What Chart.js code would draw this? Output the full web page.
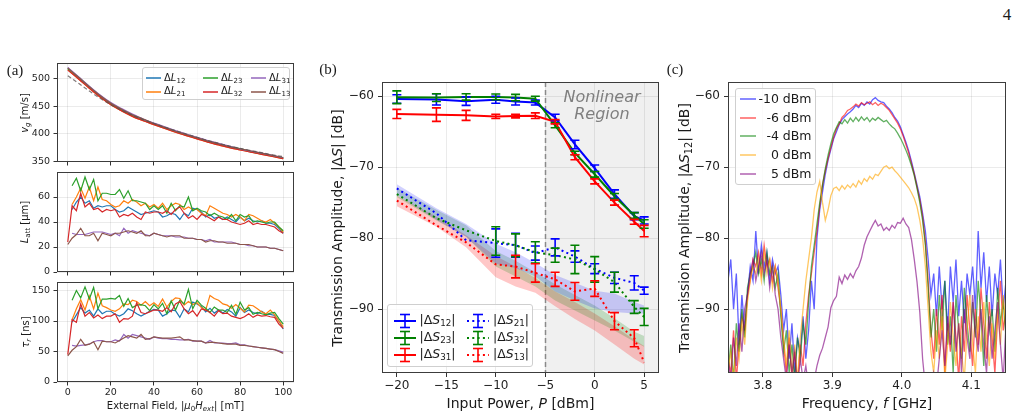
<!DOCTYPE html>
<html><head><meta charset="utf-8">
<script src="https://cdn.jsdelivr.net/npm/chart.js@4.4.1/dist/chart.umd.min.js"></script>
<style>
html,body{margin:0;padding:0;background:#fff}
#root{position:relative;width:1018px;height:418px;overflow:hidden;font-family:"DejaVu Sans",sans-serif;color:#1a1a1a}
canvas{position:absolute}
.tx{position:absolute;white-space:nowrap;line-height:1;transform:translate(-50%,-50%)}
.rot{transform:translate(-50%,-50%) rotate(-90deg)}
.serif{font-family:"Liberation Serif","DejaVu Serif",serif}
.lg{position:absolute;background:rgba(255,255,255,0.8);border:1px solid #cfcfcf;border-radius:3px;box-sizing:border-box}
.it{position:absolute;white-space:nowrap;line-height:1;transform:translateY(-50%)}
.hd{position:absolute;transform:translateY(-50%)}
sub{font-size:70%;vertical-align:-0.3em;line-height:0}
</style></head><body><div id="root"></div>
<script>
// ---------------- DATA ----------------
// Panel (a)
const fieldVg = [0,5,10,15,20,25,30,35,40,45,50,55,60,65,70,75,80,85,90,95,100];
const vgL12 = [519,502,485,469,455,444,434,425,418,411,405,398,392,386,381,377,372,368,364,360,356];
const vgL21 = [517,500,483,467,453,442,432,424,417,410,403,397,391,385,380,375,371,367,363,359,355];
const vgL23 = [519,503,486,469,455,444,434,426,419,412,405,399,393,387,382,377,373,368,364,360,356];
const vgL32 = [516,500,483,467,453,442,432,424,417,410,403,397,391,385,380,375,371,367,363,359,355];
const vgL31 = [521,504,487,471,457,446,436,427,420,413,406,400,394,388,383,378,373,369,365,361,357];
const vgL13 = [520,503,486,470,456,445,435,427,419,412,405,399,393,387,382,377,373,369,365,361,357];
const vgTheory = [506,492,478,465,453,443,434,426,419,412,406,400,394,388,383,378,374,370,366,362,359];

const field = [0,2,4,6,8,10,12,14,16,18,20,22,24,26,28,30,32,34,36,38,40,42,44,46,48,50,52,54,56,58,60,62,64,66,68,70,72,74,76,78,80,82,84,86,88,90,92,94,96,98,100];
const LattL12 = [null,50,56,60,55,57,51,53,52,53,53,50,48,49,52,50,48,46,47,48,49,48,44,45,47,46,42,47,45,51,50,48,44,46,43,44,42,44,42,40,44,41,43,41,40,41,39,39,38,35,31];
const LattL21 = [null,54,60,67,59,68,57,68,58,57,54,52,53,57,55,58,56,53,55,52,54,51,55,50,53,55,54,50,52,50,50,47,45,53,51,49,47,46,44,46,44,41,46,45,43,41,40,42,39,36,32];
const LattL23 = [null,69,75,65,76,66,74,57,63,63,62,62,66,59,65,57,57,56,55,50,53,50,53,47,55,49,53,52,60,49,51,49,48,45,47,45,44,42,46,41,46,44,45,40,41,40,39,40,40,36,33];
const LattL32 = [24,53,49,63,52,55,50,51,48,50,49,50,44,46,45,47,44,42,48,47,48,48,47,49,46,50,52,47,43,45,42,46,45,43,41,44,42,42,40,39,38,39,41,38,39,38,38,37,36,33,31];
const LattL31 = [null,31,30,30,30,31,32,32,32,31,30,31,29,35,31,33,32,31,30,29,31,30,29,29,29,28,28,28,27,27,26,26,25,26,24,24,24,24,24,23,22,22,21,21,20,20,20,19,19,18,17];
const LattL13 = [22,27,30,35,29,29,31,25,31,30,29,31,31,32,33,32,31,33,29,29,31,30,29,28,29,29,29,27,27,27,26,26,24,25,25,24,24,23,23,23,22,22,22,21,20,20,20,19,19,18,17];

const tauL12 = [null,98,110,122,113,118,108,120,112,116,116,111,108,112,120,117,112,108,112,116,119,118,108,112,118,117,106,120,115,131,128,124,115,121,113,118,113,119,115,108,122,114,118,114,112,116,111,111,109,100,87];
const tauL21 = [null,102,120,135,118,141,120,146,125,122,118,116,120,128,127,134,132,126,132,125,130,124,136,123,132,138,137,126,132,127,130,122,118,142,137,134,128,126,121,127,121,115,126,125,120,115,112,118,110,100,91];
const tauL23 = [null,134,150,138,156,136,155,120,136,136,137,136,142,124,137,122,126,127,125,117,127,120,129,112,133,118,134,128,152,120,134,126,121,114,123,118,118,114,126,111,131,118,122,111,114,112,110,113,114,104,95];
const tauL32 = [45,102,98,128,108,114,105,110,104,108,108,112,98,104,103,108,130,114,112,115,118,118,116,122,115,128,132,120,112,117,108,120,118,114,108,117,112,113,108,106,104,107,112,106,110,108,109,107,106,95,88];
const tauL31 = [null,60,59,60,61,62,66,68,68,66,66,69,67,78,72,78,76,74,72,70,74,72,71,71,70,70,69,69,70,67,67,67,64,68,64,64,64,63,63,64,61,61,59,58,57,56,55,54,53,51,49];
const tauL13 = [43,52,58,70,60,62,66,53,67,66,66,64,68,72,76,74,72,78,70,71,74,73,72,72,72,73,74,69,69,68,67,67,64,65,65,64,63,62,62,62,60,60,59,58,57,56,55,54,53,50,47];

const aLabels = ['12','21','23','32','31','13'];
const aXTicks = [0,20,40,60,80,100];
const aVgTicks = [350,400,450,500];
const aLattTicks = [0,20,40,60];
const aTauTicks = [0,50,100,150];

// Panel (b)
const powerP = [-20,-16,-13,-10,-8,-6,-4,-2,0,2,4,5];
const dS12 = [-60.4,-60.45,-60.7,-60.5,-60.75,-60.9,-63.0,-66.8,-70.15,-73.8,-76.9,-77.5];
const dS12Err = [0.6,0.8,0.6,0.5,0.5,0.35,0.45,0.6,0.45,0.6,0.5,0.5];
const dS23 = [-60.15,-60.2,-60.1,-60.1,-60.2,-60.35,-64.1,-68.0,-71.0,-74.1,-76.8,-78.0];
const dS23Err = [0.9,0.55,0.45,0.4,0.45,0.35,0.35,0.25,0.4,0.4,0.4,0.6];
const dS31 = [-62.5,-62.6,-62.7,-62.85,-62.8,-62.75,-63.6,-68.6,-72.0,-75.0,-77.7,-79.0];
const dS31Err = [0.65,0.95,0.7,0.3,0.25,0.4,0.3,0.35,0.35,0.35,0.35,0.8];
const dS21 = [-73.0,-76.5,-80.3,-80.7,-81.0,-82.1,-81.3,-82.6,-84.3,-85.6,-86.3,-87.4];
const dS21Err = [null,null,null,2.0,1.7,1.0,1.2,0.8,0.7,0.8,1.0,0.5];
const dS32 = [-73.8,-77.2,-78.9,-80.4,-81.0,-82.0,-82.4,-83.0,-84.4,-86.2,-89.7,-91.1];
const dS32Err = [null,null,null,2.0,1.6,1.5,1.0,2.0,1.8,1.4,0.9,1.2];
const dS13 = [-74.7,-78.2,-80.6,-83.7,-84.0,-84.9,-85.8,-87.5,-87.1,-91.7,-94.1,-97.5];
const dS13Err = [null,null,null,null,1.6,1.3,1.0,1.25,1.1,1.2,1.2,null];
const band12Hi = [-72.4,-75.8,-78.0,-80.8,-82.0,-83.5,-85.2,-86.3,-87.4,-87.8,-89.0,-89.5];
const band12Lo = [-73.9,-77.4,-79.8,-83.6,-84.2,-85.4,-87.5,-88.8,-89.9,-90.4,-90.6,-90.6];
const band23Hi = [-72.9,-76.0,-78.2,-81.8,-83.2,-84.8,-86.5,-88.0,-89.5,-91.3,-93.2,-93.8];
const band23Lo = [-74.2,-77.5,-79.8,-84.0,-85.4,-86.8,-88.8,-90.2,-91.6,-93.0,-94.6,-95.3];
const band31Hi = [-74.0,-77.0,-79.6,-82.5,-84.0,-85.6,-87.5,-89.0,-90.6,-92.4,-94.3,-95.2];
const band31Lo = [-75.5,-78.4,-81.3,-85.5,-86.8,-87.7,-89.6,-91.4,-93.0,-95.0,-97.0,-97.8];
const nonlinearStart = -5;
const bXTicks = [-20,-15,-10,-5,0,5];
const bYTicks = [-90,-80,-70,-60];

// Panel (c)
const freqGHz = [3.750,3.754,3.758,3.762,3.766,3.770,3.774,3.778,3.782,3.786,
3.790,3.794,3.798,3.802,3.806,3.810,3.814,3.818,3.822,3.826,
3.830,3.834,3.838,3.842,3.846,3.850,3.854,3.858,3.862,3.866,
3.870,3.874,3.878,3.882,3.886,3.890,3.894,3.898,3.902,3.906,
3.910,3.914,3.918,3.922,3.926,3.930,3.934,3.938,3.942,3.946,
3.950,3.954,3.958,3.962,3.966,3.970,3.974,3.978,3.982,3.986,
3.990,3.994,3.998,4.002,4.006,4.010,4.014,4.018,4.022,4.026,
4.030,4.034,4.038,4.042,4.046,4.050,4.054,4.058,4.062,4.066,
4.070,4.074,4.078,4.082,4.086,4.090,4.094,4.098,4.102,4.106,
4.110,4.114,4.118,4.122,4.126,4.130,4.134,4.138,4.142,4.146,4.150];
const sM10 = [-86,-83,-90,-85,-95,-88,-93,-88,-84,-86,
-79,-85,-81,-84,-82,-86,-83,-85,-84,-88,
-93,-90,-97,-92,-99,-94,-96,-91,-97,-93,
-86,-90,-80,-76,-73.5,-71,-69,-67.5,-66,-65,
-64,-63.3,-62.9,-62.5,-62.2,-61.8,-61.3,-61.6,-61.0,-61.3,
-60.8,-61.1,-60.5,-60.2,-60.6,-60.8,-60.9,-61.4,-61.8,-62.3,
-63.0,-63.5,-64.3,-65.4,-66.5,-67.7,-69.2,-70.8,-72.5,-74.2,
-76.5,-79.0,-83,-88,-85,-91,-84,-90,-86,-93,
-84,-89,-83,-91,-86,-92,-85,-88,-84,-90,
-79,-87,-82,-89,-84,-91,-85,-88,-83,-90,-86];
const sM6 = [-97,-99,-93,-100,-95,-91,-93,-88,-86,-83,
-84,-82,-85,-81,-84,-83,-86,-84,-87,-90,
-95,-99,-94,-100,-96,-101,-95,-98,-92,-88,
-85,-82,-79,-75.5,-72.5,-70.5,-68.8,-67.2,-65.8,-64.6,
-63.9,-63.0,-62.6,-62.0,-61.8,-61.5,-61.1,-61.4,-60.9,-61.2,
-61.0,-60.8,-61.2,-60.9,-61.3,-61.0,-61.2,-61.6,-62.0,-62.6,
-63.2,-63.8,-64.6,-65.6,-66.8,-68.0,-69.5,-71.0,-72.8,-74.6,
-77.0,-80.5,-86,-93,-97,-90,-95,-88,-99,-92,
-96,-89,-94,-100,-91,-96,-88,-93,-98,-90,
-95,-87,-92,-97,-89,-94,-99,-91,-86,-93,-90];
const sM4 = [-99,-95,-100,-92,-96,-90,-94,-87,-85,-84,
-82,-85,-83,-86,-82,-85,-84,-87,-85,-91,
-96,-93,-99,-95,-100,-94,-97,-92,-95,-89,
-84,-81,-78,-75,-72.5,-70.2,-68.3,-66.7,-65.3,-64.4,
-63.6,-63.9,-63.3,-63.8,-63.1,-63.6,-63.0,-63.5,-62.9,-63.4,
-63.0,-63.6,-63.1,-63.4,-63.0,-63.3,-63.6,-63.4,-63.9,-64.3,
-64.6,-65.2,-65.9,-66.7,-67.6,-68.6,-69.8,-71.2,-73.0,-75.0,
-77.5,-81,-87,-94,-90,-96,-88,-93,-86,-95,
-91,-99,-88,-93,-97,-87,-92,-96,-89,-94,
-86,-91,-98,-88,-93,-90,-96,-87,-92,-89,-94];
const s0 = [-99,-96,-100,-94,-97,-92,-95,-89,-86,-84,
-85,-83,-86,-82,-85,-83,-87,-84,-86,-90,
-94,-98,-93,-99,-95,-100,-94,-90,-86,-83,
-80,-76,-73.5,-72,-75,-77.5,-76,-74,-73,-72.8,
-73.3,-72.6,-73.1,-72.5,-72.9,-72.3,-72.8,-71.9,-72.4,-71.6,
-72.0,-71.3,-71.7,-71.0,-71.2,-70.6,-70.0,-69.8,-70.2,-70.0,
-70.5,-70.9,-71.4,-71.9,-72.4,-72.9,-73.6,-74.4,-75.6,-77.5,
-80,-84,-90,-96,-99,-93,-97,-91,-100,-95,
-89,-94,-98,-92,-96,-100,-93,-88,-95,-99,
-91,-96,-89,-94,-98,-92,-97,-90,-95,-88,-93];
const s5 = [-97,-100,-94,-98,-92,-96,-90,-88,-85,-83,
-86,-84,-82,-85,-83,-87,-84,-88,-90,-94,
-97,-100,-95,-99,-96,-101,-97,-100,-98,-101,
-100,-100,-98,-96.5,-95.5,-94,-92.5,-89.8,-88.8,-88.2,
-85.5,-86.4,-85.2,-85.8,-85.0,-85.6,-84.6,-84.0,-82.8,-81.0,
-79.8,-79.0,-78.2,-77.5,-78.3,-78.0,-78.9,-78.5,-78.9,-78.2,
-78.6,-77.8,-77.9,-77.2,-78.0,-78.5,-80.2,-83.0,-86.2,-90.5,
-97,-101,-100,-102,-99,-101,-97,-93,-98,-91,
-95,-89,-96,-92,-99,-90,-94,-97,-88,-93,
-96,-90,-95,-99,-91,-97,-93,-89,-95,-100,-92];
const cLabels = ['-10 dBm','-6 dBm','-4 dBm','0 dBm','5 dBm'];
const cXTicks = [3.8,3.9,4.0,4.1];
const cYTicks = [-90,-80,-70,-60];

// ---------------- STYLE / HELPERS ----------------
const FONT = '"DejaVu Sans", sans-serif';
const GRID = 'rgba(0,0,0,0.1)';
const root = document.getElementById('root');
const minus = v => String(v).replace('-', '\u2212');
const pts = (xs, ys) => xs.map((x, i) => ({x: x, y: ys[i]}));

const frame = { id: 'frame', afterDraw(c) {
  const {ctx, chartArea: a} = c;
  ctx.save(); ctx.strokeStyle = '#3c3c3c'; ctx.lineWidth = 1;
  ctx.strokeRect(Math.round(a.left) + 0.5, Math.round(a.top) + 0.5, Math.round(a.right - a.left) - 1, Math.round(a.bottom - a.top) - 1);
  ctx.restore();
}};
const errBars = { id: 'errBars', afterDatasetsDraw(c) {
  const {ctx, scales: {x, y}} = c;
  ctx.save(); ctx.beginPath(); ctx.rect(c.chartArea.left, c.chartArea.top, c.chartArea.width, c.chartArea.height); ctx.clip();
  c.data.datasets.forEach(ds => {
    if (!ds.errors) return;
    ctx.strokeStyle = ds.borderColor; ctx.lineWidth = 1.6; ctx.setLineDash([]);
    ds.data.forEach((p, j) => {
      const e = ds.errors[j]; if (e == null || p.y == null) return;
      const px = x.getPixelForValue(p.x), y1 = y.getPixelForValue(p.y - e), y2 = y.getPixelForValue(p.y + e), cap = 4.5;
      ctx.beginPath();
      ctx.moveTo(px, y1); ctx.lineTo(px, y2);
      ctx.moveTo(px - cap, y1); ctx.lineTo(px + cap, y1);
      ctx.moveTo(px - cap, y2); ctx.lineTo(px + cap, y2);
      ctx.stroke();
    });
  });
  ctx.restore();
}};
const nonlinear = { id: 'nonlinear',
  beforeDraw(c) {
    const {ctx, chartArea: a, scales: {x}} = c; const px = x.getPixelForValue(nonlinearStart);
    ctx.save(); ctx.fillStyle = '#f0f0f0'; ctx.fillRect(px, a.top, a.right - px, a.bottom - a.top); ctx.restore();
  },
  beforeDatasetsDraw(c) {
    const {ctx, chartArea: a, scales: {x}} = c; const px = Math.round(x.getPixelForValue(nonlinearStart)) + 0.5;
    ctx.save(); ctx.strokeStyle = '#8a8a8a'; ctx.lineWidth = 1.5; ctx.setLineDash([5, 3]);
    ctx.beginPath(); ctx.moveTo(px, a.top); ctx.lineTo(px, a.bottom); ctx.stroke(); ctx.restore();
  }
};

function axis(min, max, ticks, o) {
  return {
    type: 'linear', min: min, max: max,
    afterBuildTicks: s => { s.ticks = ticks.map(v => ({value: v})); },
    ticks: { font: {family: FONT, size: o.fs}, color: '#1e1e1e', padding: o.pad, maxRotation: 0, autoSkip: false,
      callback: o.cb || (v => minus(v)) },
    grid: { color: GRID, lineWidth: 0.8, drawTicks: true, tickLength: o.tl, tickColor: '#333', tickWidth: 1 },
    border: { display: false }
  };
}
function mk(rect, pad, datasets, xo, yo, plugins) {
  const c = document.createElement('canvas');
  const w = rect[2] - rect[0] + pad.l + pad.r, h = rect[3] - rect[1] + pad.t + pad.b;
  c.width = w; c.height = h; c.style.width = w + 'px'; c.style.height = h + 'px';
  c.style.left = (rect[0] - pad.l) + 'px'; c.style.top = (rect[1] - pad.t) + 'px';
  root.appendChild(c);
  xo.afterFit = s => { s.height = pad.b; };
  yo.afterFit = s => { s.width = pad.l; };
  return new Chart(c, {
    type: 'line', data: {datasets: datasets},
    options: { responsive: false, animation: false, events: [], devicePixelRatio: 1,
      layout: {padding: {left: 0, top: pad.t, right: pad.r, bottom: 0}},
      plugins: {legend: {display: false}, tooltip: {enabled: false}},
      elements: {point: {radius: 0}},
      scales: {x: xo, y: yo} },
    plugins: [frame].concat(plugins || [])
  });
}
function text(html, x, y, cls, style) {
  const d = document.createElement('div'); d.className = 'tx ' + (cls || ''); d.innerHTML = html;
  d.style.left = x + 'px'; d.style.top = y + 'px'; Object.assign(d.style, style || {}); root.appendChild(d); return d;
}

// ---------------- PANEL (a) ----------------
const tab10 = ['#1f77b4','#ff7f0e','#2ca02c','#d62728','#9467bd','#8c564b'];
const aX = (lbl) => axis(-5, 105, aXTicks, {fs: 9.5, pad: 1.5, tl: 3.5, cb: lbl ? (v => v) : (() => '')});
const lineDs = (xs, ys, color, i, extra) => Object.assign({data: pts(xs, ys), borderColor: color, borderWidth: 1.2, pointRadius: 0, fill: false, order: 10 - i}, extra || {});

const vgSets = [vgL12, vgL21, vgL23, vgL32, vgL31, vgL13].map((s, i) => lineDs(fieldVg, s, tab10[i], i, {cubicInterpolationMode: 'monotone'}));
vgSets.push({data: pts(fieldVg, vgTheory), borderColor: 'rgba(90,80,80,0.75)', borderWidth: 1.2, borderDash: [4, 2.5], pointRadius: 0, order: 0, cubicInterpolationMode: 'monotone'});
mk([57, 63, 294, 162], {l: 42, t: 14, r: 12, b: 12}, vgSets, aX(false), axis(349, 529, aVgTicks, {fs: 9.5, pad: 3.5, tl: 3.5}));
mk([57, 172, 294, 272], {l: 42, t: 14, r: 12, b: 12},
  [LattL12, LattL21, LattL23, LattL32, LattL31, LattL13].map((s, i) => lineDs(field, s, tab10[i], i)),
  aX(false), axis(0, 80, aLattTicks, {fs: 9.5, pad: 3.5, tl: 3.5}));
mk([57, 282, 294, 382], {l: 42, t: 14, r: 12, b: 24},
  [tauL12, tauL21, tauL23, tauL32, tauL31, tauL13].map((s, i) => lineDs(field, s, tab10[i], i)),
  aX(true), axis(0, 164, aTauTicks, {fs: 9.5, pad: 3.5, tl: 3.5}));

// ---------------- PANEL (b) ----------------
const BLUE = '#0000ff', GREEN = '#008000', RED = '#ff0000';
const bSets = [];
[[band12Hi, band12Lo, 'rgba(0,0,255,0.18)'], [band23Hi, band23Lo, 'rgba(0,128,0,0.2)'], [band31Hi, band31Lo, 'rgba(255,0,0,0.22)']].forEach(b => {
  bSets.push({data: pts(powerP, b[0]), borderWidth: 0, borderColor: 'rgba(0,0,0,0)', pointRadius: 0, fill: false, order: 20});
  bSets.push({data: pts(powerP, b[1]), borderWidth: 0, borderColor: 'rgba(0,0,0,0)', backgroundColor: b[2], pointRadius: 0, fill: '-1', order: 20});
});
[[dS21, dS21Err, BLUE], [dS32, dS32Err, GREEN], [dS13, dS13Err, RED]].forEach((s, i) => {
  bSets.push({data: pts(powerP, s[0]), errors: s[1], borderColor: s[2], borderWidth: 2, borderDash: [2, 3.3], pointRadius: 0, fill: false, order: 10 - i});
});
[[dS12, dS12Err, BLUE], [dS23, dS23Err, GREEN], [dS31, dS31Err, RED]].forEach((s, i) => {
  bSets.push({data: pts(powerP, s[0]), errors: s[1], borderColor: s[2], borderWidth: 2, pointRadius: 0, fill: false, order: 5 - i});
});
mk([382, 82, 659, 373], {l: 45, t: 14, r: 12, b: 24}, bSets,
  axis(-21.5, 6.5, bXTicks, {fs: 12, pad: 2, tl: 4}), axis(-99, -58, bYTicks, {fs: 12, pad: 4, tl: 4}), [nonlinear, errBars]);

// ---------------- PANEL (c) ----------------
const cColors = ['rgba(0,0,255,0.62)', 'rgba(255,0,0,0.62)', 'rgba(0,128,0,0.62)', 'rgba(255,165,0,0.62)', 'rgba(128,0,128,0.62)'];
const cSets = [sM10, sM6, sM4, s0, s5].map((s, i) => ({data: pts(freqGHz, s), borderColor: cColors[i], borderWidth: 1.3, pointRadius: 0, fill: false, order: 10 - i}));
mk([728, 82, 1006, 373], {l: 45, t: 14, r: 12, b: 24}, cSets,
  axis(3.75, 4.15, cXTicks, {fs: 12, pad: 2, tl: 4, cb: v => v.toFixed(1)}), axis(-99, -58, cYTicks, {fs: 12, pad: 4, tl: 4}));

// ---------------- TEXT: titles, labels ----------------
text('<i>v<sub>g</sub></i> [m/s]', 24.5, 112.5, 'rot', {fontSize: '10px'});
text('<i>L</i><sub>att</sub> [μm]', 24.5, 222, 'rot', {fontSize: '10px'});
text('<i>τ<sub>r</sub></i> [ns]', 26, 332, 'rot', {fontSize: '10px'});
text('External Field, |<i>μ</i><sub>0</sub><i>H<sub>ext</sub></i>| [mT]', 175.5, 405.5, '', {fontSize: '10px'});
text('Transmission Amplitude, |Δ<i>S</i>| [dB]', 337, 227.5, 'rot', {fontSize: '14px'});
text('Input Power, <i>P</i> [dBm]', 520.5, 402.5, '', {fontSize: '14px'});
text('Transmission Amplitude, |Δ<i>S</i><sub>12</sub>| [dB]', 683.5, 227.5, 'rot', {fontSize: '14px'});
text('Frequency, <i>f</i> [GHz]', 867, 402.5, '', {fontSize: '14px'});
text('(a)', 15, 70, 'serif', {fontSize: '15px'});
text('(b)', 328, 69, 'serif', {fontSize: '15px'});
text('(c)', 675, 69, 'serif', {fontSize: '15px'});
text('4', 1007, 14, 'serif', {fontSize: '17px'});
text('Nonlinear<br>Region', 602, 105.6, '', {fontSize: '16px', fontStyle: 'italic', color: '#7f7f7f', lineHeight: '17.7px', textAlign: 'center'});

// ---------------- LEGENDS ----------------
function box(l, t, w, h) { const d = document.createElement('div'); d.className = 'lg';
  Object.assign(d.style, {left: l + 'px', top: t + 'px', width: w + 'px', height: h + 'px'}); root.appendChild(d); return d; }
function item(parent, html, x, y, fs, right) { const d = document.createElement('div'); d.className = 'it'; d.innerHTML = html;
  d.style.top = y + 'px'; d.style.fontSize = fs + 'px'; if (right != null) d.style.right = right + 'px'; else d.style.left = x + 'px'; parent.appendChild(d); }
function lineIcon(parent, x, y, w, color, dashed) { const s = document.createElementNS('http://www.w3.org/2000/svg', 'svg');
  s.setAttribute('width', w); s.setAttribute('height', 4); s.setAttribute('class', 'hd'); s.style.left = x + 'px'; s.style.top = y + 'px';
  s.innerHTML = `<line x1="0" y1="2" x2="${w}" y2="2" stroke="${color}" stroke-width="1.5"${dashed ? ' stroke-dasharray="2,3.3"' : ''}/>`; parent.appendChild(s); }
function ebIcon(parent, x, y, color, dotted) { const s = document.createElementNS('http://www.w3.org/2000/svg', 'svg');
  s.setAttribute('width', 22); s.setAttribute('height', 16); s.setAttribute('class', 'hd'); s.style.left = x + 'px'; s.style.top = y + 'px';
  s.innerHTML = `<line x1="0" y1="8" x2="22" y2="8" stroke="${color}" stroke-width="2"${dotted ? ' stroke-dasharray="2,3.3"' : ''}/>` +
    `<line x1="11" y1="1" x2="11" y2="15" stroke="${color}" stroke-width="1.6"/>` +
    `<line x1="6" y1="1.5" x2="16" y2="1.5" stroke="${color}" stroke-width="1.6"/><line x1="6" y1="14.5" x2="16" y2="14.5" stroke="${color}" stroke-width="1.6"/>`;
  parent.appendChild(s); }

// (a) legend: column-major, 3 columns x 2 rows
const la = box(142, 67, 148, 33);
const aColX = [3, 60, 108], aRowY = [10, 23.5];
aLabels.forEach((lbl, i) => {
  const col = Math.floor(i / 2), row = i % 2;
  lineIcon(la, aColX[col], aRowY[row], 15, tab10[i]);
  item(la, 'Δ<i>L</i><sub>' + lbl + '</sub>', aColX[col] + 18, aRowY[row] - 0.5, 10);
});
// (b) legend
const lb = box(387, 304, 146, 63);
const bItems = [['12', BLUE, false], ['23', GREEN, false], ['31', RED, false], ['21', BLUE, true], ['32', GREEN, true], ['13', RED, true]];
const bRowY = [15.7, 32.6, 49.8];
bItems.forEach((it, i) => {
  const col = Math.floor(i / 3), row = i % 3; const hx = col ? 79 : 5.5;
  ebIcon(lb, hx, bRowY[row], it[1], it[2]);
  item(lb, '|Δ<i>S</i><sub>' + it[0] + '</sub>|', hx + 26, bRowY[row] - 0.5, 12.5);
});
// (c) legend
const lc = box(735, 88, 81, 97);
const cRowY = [9.5, 28.5, 47.2, 66.2, 84.5];
cLabels.forEach((lbl, i) => {
  lineIcon(lc, 3.5, cRowY[i], 16, cColors[i]);
  item(lc, lbl, 0, cRowY[i], 12.5, 3.5);
});
</script></body></html>
